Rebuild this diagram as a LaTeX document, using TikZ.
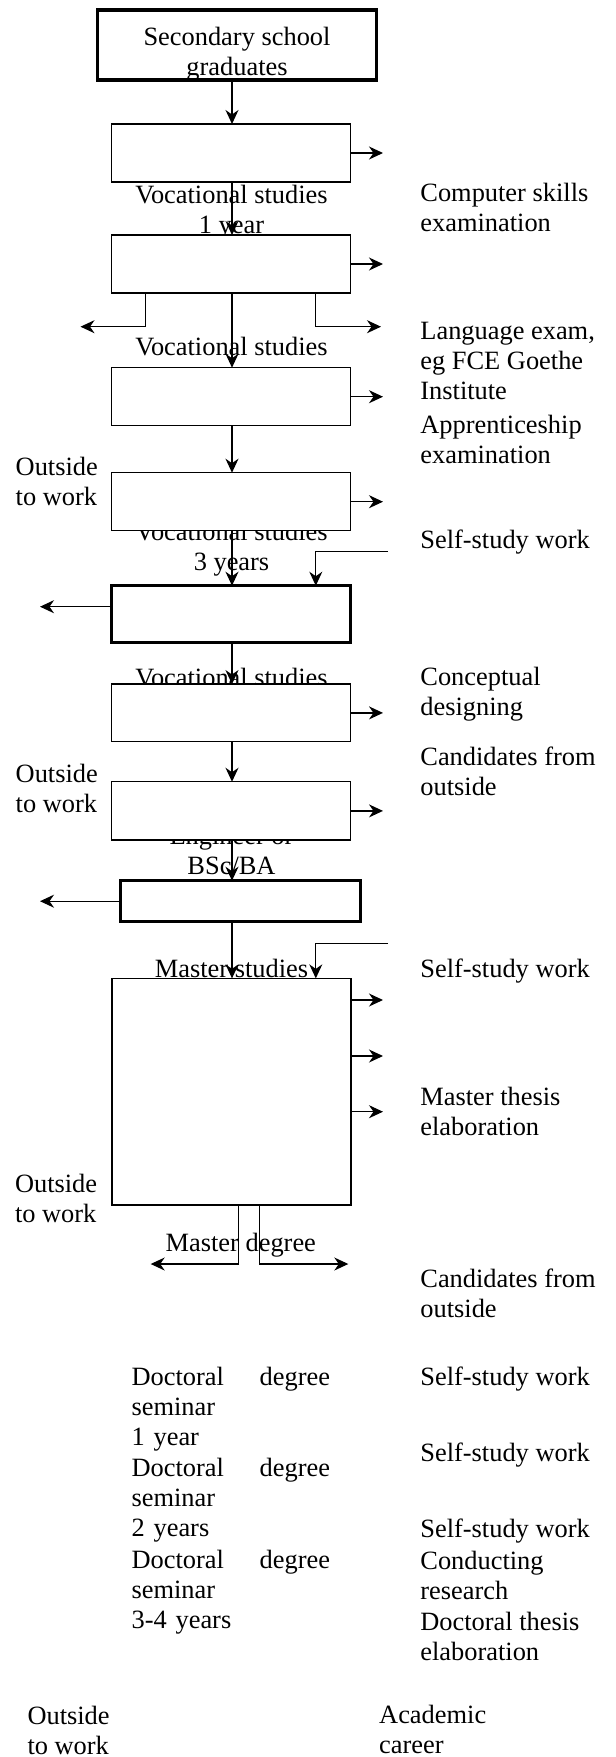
\documentclass[tikz,border=0pt]{standalone}
\usepackage{fontspec}
\setmainfont{Liberation Serif}
\usetikzlibrary{arrows.meta}
\begin{document}
\begin{tikzpicture}[x=1pt,y=-1pt,
  txt/.style={font=\fontsize{26.4}{30}\selectfont, inner sep=0pt, outer sep=0pt},
  lt/.style={txt, anchor=base west, align=left},
  ct/.style={txt, anchor=base, align=center},
  box/.style={draw, line width=1.4pt, fill=white, minimum width=239pt, minimum height=58pt, inner sep=0pt, outer sep=0pt},
  tbox/.style={box, line width=3.4pt},
  arr/.style={line width=1.2pt, -{Stealth[length=14pt,width=13pt,inset=4.5pt]}}
]
\useasboundingbox (0,0) rectangle (616,1757);

% labels under the boxes (anchor = baseline of the last line)
\node[ct] (l1) at (231.5,233) {Vocational studies\\1 year};
\node[ct] (l2) at (231.5,355) {Vocational studies};
\node[ct] (l3) at (231.5,570) {Vocational studies\\3 years};
\node[ct] (l4) at (231.5,686) {Vocational studies};
\node[ct] (l5) at (231.5,874) {Engineer or\\BSc/BA};
\node[ct] (l6) at (231.5,977) {Master studies};
\node[ct] (l7) at (240.8,1251) {Master degree};

% right column
\node[lt] (r1) at (420.4,231.5) {Computer skills\\examination};
\node[lt] (r2) at (420.4,399.5) {Language exam,\\eg FCE Goethe\\Institute};
\node[lt] (r3) at (420.4,463) {Apprenticeship\\examination};
\node[lt] (r4) at (420.4,548) {Self-study work};
\node[lt] (r5) at (420.4,715) {Conceptual\\designing};
\node[lt] (r6) at (420.4,795) {Candidates from\\outside};
\node[lt] (r7) at (420.4,977) {Self-study work};
\node[lt] (r8) at (420.4,1135) {Master thesis\\elaboration};
\node[lt] (r9) at (420.4,1317) {Candidates from\\outside};
\node[lt] (r10) at (420.4,1385) {Self-study work};
\node[lt] (r11) at (420.4,1461.7) {Self-study work};
\node[lt] (r12) at (420.4,1537.3) {Self-study work};
\node[lt] (r13) at (420.4,1599) {Conducting\\research};
\node[lt] (r14) at (420.4,1660) {Doctoral thesis\\elaboration};
\node[lt] (r15) at (379.2,1753) {Academic\\career};

% left column
\node[lt] (o1) at (15.7,505) {Outside\\to work};
\node[lt] (o2) at (15.7,812.5) {Outside\\to work};
\node[lt] (o3) at (15,1222.7) {Outside\\to work};
\node[lt] (o4) at (27.5,1754) {Outside\\to work};

% doctoral column (text width: anchor = first line)
\node[txt, anchor=base west, text width=198.4pt, align=left] (d1) at (131.6,1385) {Doctoral\hfill degree\\seminar\\1 year};
\node[txt, anchor=base west, text width=198.4pt, align=left] (d2) at (131.6,1476.7) {Doctoral\hfill degree\\seminar\\2 years};
\node[txt, anchor=base west, text width=198.4pt, align=left] (d3) at (131.6,1568.3) {Doctoral\hfill degree\\seminar\\3-4 years};

% boxes
\node[tbox, minimum width=279pt, minimum height=70pt] (top) at (237,45) {};
\node[ct] (toptxt) at (237,75) {Secondary school\\graduates};
\node[box] (b1) at (231.2,153) {};
\node[box] (b2) at (231.2,264) {};
\node[box] (b3) at (231.2,396.7) {};
\node[box] (b4) at (231.2,501.7) {};
\node[tbox, minimum width=239pt, minimum height=57pt] (b5) at (231.2,614.2) {};
\node[box, minimum height=57.7pt] (b6) at (231.2,712.9) {};
\node[box, minimum height=58.3pt] (b7) at (231.2,810.9) {};
\node[tbox, minimum width=240pt, minimum height=41pt] (b8) at (240.7,901.2) {};
\node[box, minimum height=226.7pt] (b9) at (231.5,1091.7) {};

% helper coordinates
\coordinate (cx) at (232,0);
\coordinate (rx) at (383,0);
\coordinate (lx) at (40,0);
\coordinate (fx) at (315.8,0);
\coordinate (bl) at (80.5,326.7);
\coordinate (br) at (381,326.7);
\coordinate (s1) at (388,551.7);
\coordinate (w5) at (40,606.7);
\coordinate (s2) at (388,943.3);
\coordinate (m1) at (383,1000);
\coordinate (m2) at (383,1056);
\coordinate (m3) at (383,1111.7);
\coordinate (ml) at (150.7,1264);
\coordinate (mr) at (348.3,1264);

% main flow
\draw[arr] (top.south -| cx) -- (b1.north -| cx);
\draw[arr] (b1.south -| cx) -- (b2.north -| cx);
\draw[arr] (b2.south -| cx) -- (b3.north -| cx);
\draw[arr] (b3.south -| cx) -- (b4.north -| cx);
\draw[arr] (b4.south -| cx) -- (b5.north -| cx);
\draw[arr] (b5.south -| cx) -- (b6.north -| cx);
\draw[arr] (b6.south -| cx) -- (b7.north -| cx);
\draw[arr] (b7.south -| cx) -- (b8.north -| cx);
\draw[arr] (b8.south -| cx) -- (b9.north -| cx);

% right arrows
\draw[arr] (b1.east) -- (b1.east -| rx);
\draw[arr] (b2.east) -- (b2.east -| rx);
\draw[arr] (b3.east) -- (b3.east -| rx);
\draw[arr] (b4.east) -- (b4.east -| rx);
\draw[arr] (b6.east) -- (b6.east -| rx);
\draw[arr] (b7.east) -- (b7.east -| rx);
\draw[arr] (b9.east |- m1) -- (m1);
\draw[arr] (b9.east |- m2) -- (m2);
\draw[arr] (b9.east |- m3) -- (m3);

% branches
\draw[arr] (b2.south west) ++(33.7,0) |- (bl);
\draw[arr] (b2.south east) ++(-35.2,0) |- (br);
\draw[arr] (s1) -| (fx |- b5.north);
\draw[arr] (b5.west |- w5) -- (w5);
\draw[arr] (b8.west) -- (b8.west -| lx);
\draw[arr] (s2) -| (fx |- b9.north);
\draw[arr] (b9.south) ++(6.8,0) |- (ml);
\draw[arr] (b9.south) ++(27.8,0) |- (mr);
\end{tikzpicture}
\end{document}
